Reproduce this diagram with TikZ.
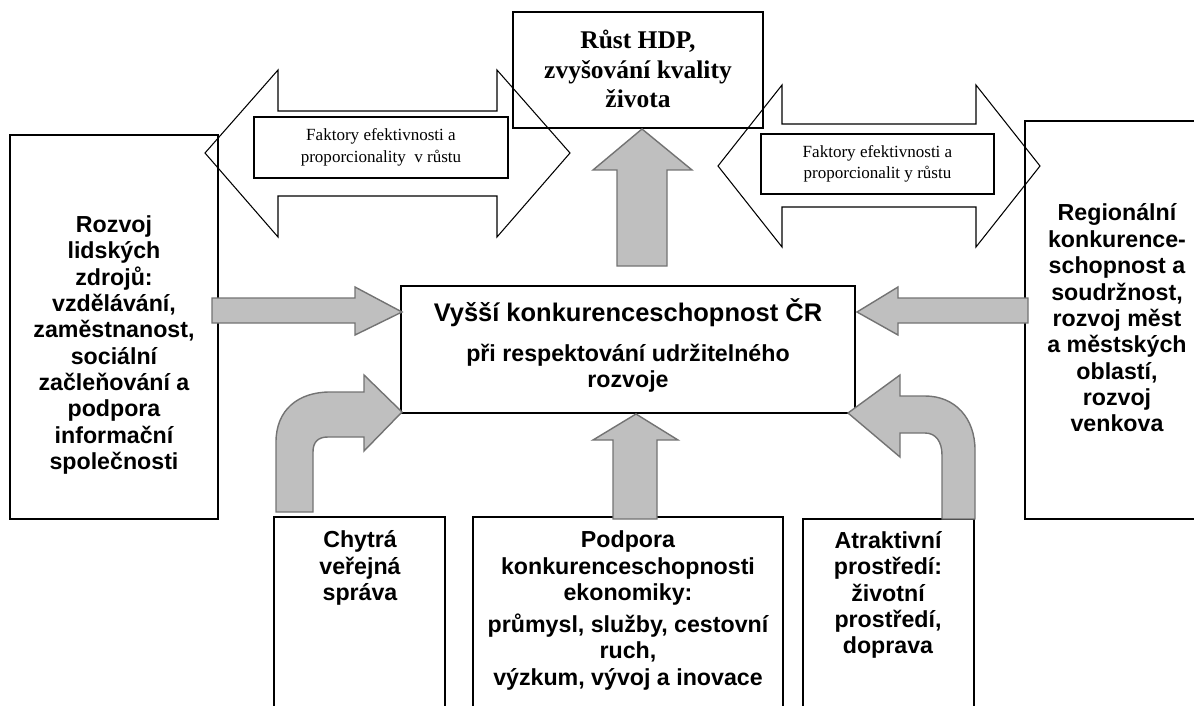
\documentclass[tikz,border=0pt]{standalone}
\usepackage{fontspec}
\setmainfont{Liberation Serif}
\setsansfont{Liberation Sans}
\usetikzlibrary{fit}

\tikzset{
  box/.style={draw, line width=0.6pt, inner sep=0pt},
  mainbox/.style={box, line width=1.3pt},
  inbox/.style={box, line width=0.9pt},
  hollow/.style={draw, line width=0.6pt},
  grey/.style={draw=black!55, fill=gray!50, line width=0.8pt},
  txt/.style={align=center, inner sep=0pt, font=\fontsize{13.2}{15}\selectfont\sffamily\bfseries},
  headtxt/.style={align=center, inner sep=0pt, font=\fontsize{14.5}{16.6}\selectfont\bfseries},
  smalltxt/.style={align=center, inner sep=0pt, font=\fontsize{9.7}{12.2}\selectfont}
}

\begin{document}
\begin{tikzpicture}[x=0.02cm, y=-0.02cm]
  \useasboundingbox (0,0) rectangle (1194,706);
  \clip (0,0) rectangle (1194,706);

  % boxes
  \node[box, fit={(10,135) (218,519)}] (people) {};
  \node[box, fit={(1025,121) (1209,519)}] (region) {};
  \node[box, fit={(513,12) (763,128)}] (gdp) {};
  \node[mainbox, fit={(401,286) (855,413)}] (core) {};
  \node[box, fit={(274,517) (445,720)}] (admin) {};
  \node[box, fit={(473,517) (783,720)}] (economy) {};
  \node[box, fit={(803,519) (974,720)}] (environ) {};

  % double arrows with their labels
  \draw[hollow] (205,153) -- (278,70) -- (278,111) -- (497,111) -- (497,70) -- (570,153)
    -- (497,237) -- (497,196) -- (278,196) -- (278,237) -- cycle;
  \node[inbox, fit={(254,117) (508,178)}] (leftfactor) {};
  \draw[hollow] (718,166) -- (782,85) -- (782,124) -- (976,124) -- (976,85) -- (1040,166)
    -- (976,247) -- (976,207) -- (782,207) -- (782,247) -- cycle;
  \node[inbox, fit={(761,134) (994,194)}] (rightfactor) {};

  % grey arrows
  \draw[grey] (617,266) -- (617,170) -- (593,170) -- (642,129) -- (692,170) -- (667,170) -- (667,266) -- cycle;
  \draw[grey] (212,298) -- (355,298) -- (355,287) -- (402,312) -- (355,335) -- (355,323) -- (212,323) -- cycle;
  \draw[grey] (1028,298) -- (898,298) -- (898,287) -- (857,312) -- (898,335) -- (898,323) -- (1028,323) -- cycle;
  \draw[grey] (613,519) -- (613,440) -- (593,440) -- (636,414) -- (678,440) -- (657,440) -- (657,519) -- cycle;
  \draw[grey] (276,512) -- (276,442) .. controls (276,410) and (298,392) .. (330,392) -- (364,392)
    -- (364,375) -- (402,412) -- (364,451) -- (364,437) -- (328,437)
    .. controls (318,437) and (313,442) .. (313,452) -- (313,512) -- cycle;
  \draw[grey] (975,519) -- (975,450) .. controls (975,418) and (955,396) .. (925,396) -- (900,396)
    -- (900,375) -- (848,413) -- (900,457) -- (900,433) -- (925,433)
    .. controls (936,433) and (942,442) .. (942,455) -- (942,519) -- cycle;

  % texts
  \node[headtxt] (gdptext) at (638,69) {Růst HDP,\\zvyšování kvality\\života};
  \node[smalltxt] (lefttext) at (leftfactor) {Faktory efektivnosti a\\proporcionality \ v růstu};
  \node[smalltxt] (righttext) at (rightfactor) {Faktory efektivnosti a\\proporcionalit y růstu};
  \node[txt] (peopletext) at (114,345) {Rozvoj\\lidských\\zdrojů:\\vzdělávání,\\zaměstnanost,\\sociální\\začleňování a\\podpora\\informační\\společnosti};
  \node[txt] (regiontext) at (1117,318) {Regionální\\konkurence-\\schopnost a\\soudržnost,\\rozvoj měst\\a městských\\oblastí,\\rozvoj\\venkova};
  \node[txt, font=\fontsize{14.5}{17}\selectfont\sffamily\bfseries] (coretitle) at (628,313) {Vyšší konkurenceschopnost ČR};
  \node[txt] (coresub) at (628,368) {při respektování udržitelného\\rozvoje};
  \node[txt] (admintext) at (360,568) {Chytrá\\veřejná\\správa};
  \node[txt] (economytext) at (628,568) {Podpora\\konkurenceschopnosti\\ekonomiky:};
  \node[txt] (sectortext) at (628,652) {průmysl, služby, cestovní\\ruch,\\výzkum, vývoj a inovace};
  \node[txt] (environtext) at (888,595) {Atraktivní\\prostředí:\\životní\\prostředí,\\doprava};
\end{tikzpicture}
\end{document}
